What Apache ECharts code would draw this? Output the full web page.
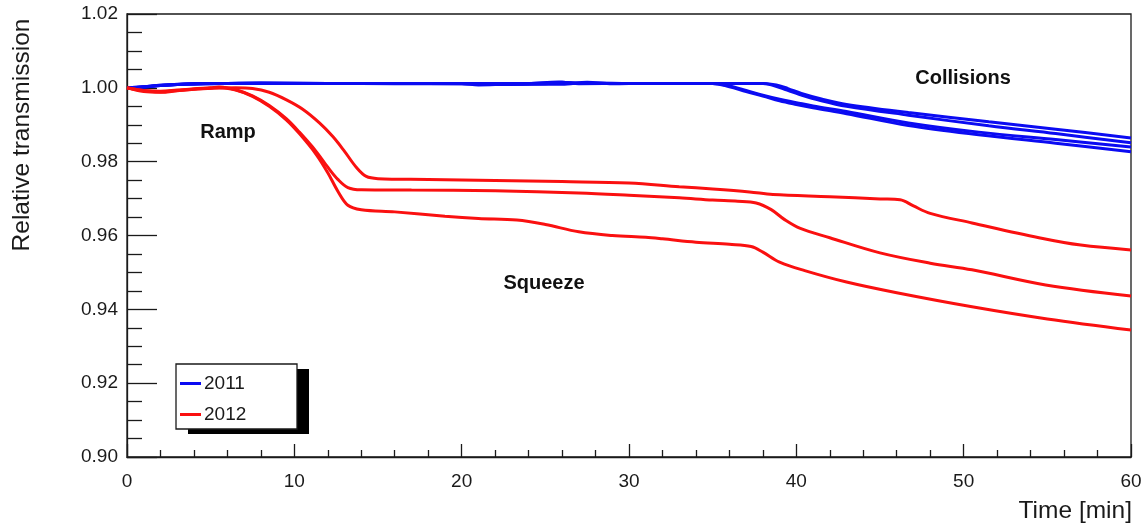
<!DOCTYPE html>
<html>
<head>
<meta charset="utf-8">
<title>Relative transmission</title>
<script src="https://cdn.jsdelivr.net/npm/echarts@6/dist/echarts.min.js"></script>
<style>
  html, body { margin: 0; padding: 0; background: #fff; }
  #chart { width: 1147px; height: 529px; }
</style>
</head>
<body>
<div id="chart"></div>
<script>
// Axis ranges and tick labels
const xTicks = [0, 10, 20, 30, 40, 50, 60];
const yTicks = [0.90, 0.92, 0.94, 0.96, 0.98, 1.00, 1.02];

// 2011 fills: [time (min), relative transmission]
const fill2011a = [[0,1.0],[1,1.0003],[2,1.0007],[3,1.0009],[4,1.0011],[6,1.0012],[8,1.0013],[12,1.0012],[16,1.0012],[20,1.0012],[22,1.0010],[24,1.0011],[25.8,1.0016],[27,1.0012],[28,1.0013],[30,1.0012],[33,1.0012],[36,1.0012],[38,1.0012],[38.8,1.0008],[39.5,0.9998],[40.3,0.9985],[41.5,0.9970],[43,0.9955],[46.7,0.9933],[51.5,0.9908],[55.5,0.9888],[60,0.9864]];
const fill2011b = [[0,1.0],[1,1.0002],[2,1.0006],[3,1.0009],[4,1.0010],[6,1.0012],[8,1.0012],[12,1.0012],[16,1.0011],[20,1.0011],[21,1.0008],[23,1.0010],[26,1.0010],[27.5,1.0015],[29,1.0011],[31,1.0012],[34,1.0012],[38,1.0012],[38.5,1.0008],[39.3,0.9996],[40.2,0.9982],[41.5,0.9965],[43,0.9950],[46.7,0.9926],[51.5,0.9897],[55.5,0.9876],[60,0.9851]];
const fill2011c = [[0,1.0],[1,1.0003],[2,1.0007],[3,1.0010],[4,1.0011],[6,1.0012],[8,1.0013],[12,1.0012],[16,1.0012],[20,1.0012],[24,1.0012],[26.5,1.0014],[28,1.0012],[31,1.0012],[35,1.0012],[36,1.0005],[37,0.9993],[38,0.9980],[39,0.9969],[40,0.9960],[41,0.9951],[43,0.9936],[46.7,0.9905],[50.9,0.9880],[55.5,0.9860],[60,0.9840]];
const fill2011d = [[0,1.0],[1,1.0002],[2,1.0006],[3,1.0009],[4,1.0011],[6,1.0012],[8,1.0012],[12,1.0012],[16,1.0012],[20,1.0011],[22,1.0009],[25,1.0011],[26,1.0015],[27,1.0011],[30,1.0012],[35,1.0012],[36,1.0003],[37,0.9990],[38,0.9978],[39,0.9965],[40,0.9955],[41,0.9946],[43,0.9930],[46.7,0.9898],[50.9,0.9873],[55.5,0.9850],[60,0.9827]];

// 2012 fills
const fill2012a = [[0,1.0],[1,0.9993],[2,0.9991],[3,0.9994],[4,0.9997],[5,0.9999],[6.5,1.0],[7.5,0.9998],[8.5,0.9988],[9.5,0.9968],[10.5,0.9942],[11.5,0.9905],[12.3,0.9868],[13,0.9828],[13.7,0.9785],[14.3,0.9760],[15,0.9754],[18,0.9752],[22,0.9749],[26,0.9746],[30,0.9742],[33,0.9732],[35,0.9726],[37.2,0.9718],[38.6,0.9711],[42,0.9705],[45,0.9699],[46.2,0.9697],[47,0.9680],[48,0.9660],[50.5,0.9634],[54.5,0.9594],[57,0.9574],[60,0.9561]];
const fill2012b = [[0,1.0],[1,0.9992],[2,0.9989],[3,0.9993],[4,0.9997],[5,1.0],[5.5,1.0002],[6.5,0.9995],[7.5,0.9978],[8.5,0.9952],[9.5,0.9917],[10.3,0.9880],[11.3,0.9828],[12,0.9785],[12.6,0.9752],[13.2,0.9730],[14,0.9724],[17,0.9723],[22,0.9721],[27,0.9715],[30,0.9709],[33,0.9702],[35,0.9696],[36.5,0.9693],[37.6,0.9688],[38.5,0.9670],[39.3,0.9643],[40.2,0.9620],[42,0.9594],[45,0.9553],[48,0.9525],[50.5,0.9507],[54.9,0.9466],[60,0.9436]];
const fill2012c = [[0,1.0],[1,0.9990],[2,0.9988],[3,0.9992],[4,0.9996],[5,0.9999],[5.5,1.0001],[6.5,0.9994],[7.5,0.9977],[8.5,0.9950],[9.5,0.9914],[10.3,0.9876],[11.3,0.9820],[12,0.9770],[12.6,0.9720],[13.2,0.9682],[14,0.9670],[16,0.9664],[19,0.9652],[21,0.9646],[23.3,0.9642],[25,0.9630],[27,0.9610],[29,0.9600],[31,0.9595],[32,0.9591],[34,0.9582],[36,0.9576],[37.3,0.9570],[38,0.9555],[39,0.9528],[40.5,0.9505],[43,0.9474],[46,0.9445],[50.5,0.9407],[55,0.9374],[60,0.9344]];

const fills2011 = [fill2011a, fill2011b, fill2011c, fill2011d];
const fills2012 = [fill2012a, fill2012b, fill2012c];

const BLUE = '#0b0bf2';
const RED = '#fa1010';
const FONT = '"Liberation Sans", Arial, Helvetica, sans-serif';
const INK = '#1a1a1a';

function lineSeries(name, data, color) {
  return {
    name: name,
    type: 'line',
    data: data,
    smooth: 0.35,
    symbol: 'none',
    lineStyle: { color: color, width: 3 },
    itemStyle: { color: color },
    emphasis: { disabled: true },
    z: 3
  };
}

const series = []
  .concat(fills2011.map(d => lineSeries('2011', d, BLUE)))
  .concat(fills2012.map(d => lineSeries('2012', d, RED)));

const chart = echarts.init(document.getElementById('chart'), null, { renderer: 'canvas' });

chart.setOption({
  animation: false,
  backgroundColor: '#ffffff',
  grid: {
    left: 127, right: 16, top: 14, bottom: 72,
    show: true, borderColor: INK, borderWidth: 1.3, backgroundColor: 'transparent'
  },
  xAxis: {
    type: 'value',
    min: xTicks[0], max: xTicks[xTicks.length - 1], interval: 10,
    axisLine: { show: true, onZero: false, lineStyle: { color: INK, width: 1.3 } },
    axisTick: { show: true, inside: true, length: 13, lineStyle: { color: INK, width: 1.3 } },
    minorTick: { show: true, splitNumber: 5, length: 7, lineStyle: { color: INK, width: 1.3 } },
    splitLine: { show: false },
    axisLabel: { margin: 15, fontSize: 19, color: INK, fontFamily: FONT }
  },
  yAxis: {
    type: 'value',
    min: yTicks[0], max: yTicks[yTicks.length - 1], interval: 0.02,
    axisLine: { show: true, onZero: false, lineStyle: { color: INK, width: 1.3 } },
    axisTick: { show: true, inside: true, length: 30, lineStyle: { color: INK, width: 1.3 } },
    minorTick: { show: true, splitNumber: 4, length: 15, lineStyle: { color: INK, width: 1.3 } },
    splitLine: { show: false },
    axisLabel: {
      margin: 9, fontSize: 19, color: INK, fontFamily: FONT,
      formatter: v => v.toFixed(2)
    }
  },
  legend: {
    data: ['2011', '2012'],
    orient: 'vertical',
    left: 180, top: 374,
    padding: 0,
    itemGap: 12,
    itemWidth: 21, itemHeight: 3,
    icon: 'rect',
    selectedMode: false,
    textStyle: { fontSize: 19, color: INK, fontFamily: FONT, padding: [0, 0, 0, -2] },
    z: 20
  },
  graphic: [
    // legend frame with its drop shadow
    { type: 'rect', z: 10, shape: { x: 188, y: 369, width: 121, height: 65 }, style: { fill: '#000' } },
    { type: 'rect', z: 11, shape: { x: 176, y: 364, width: 121, height: 65 }, style: { fill: '#fff', stroke: INK, lineWidth: 1.3 } },
    // phase annotations
    { type: 'text', z: 12, x: 228, y: 132, style: { text: 'Ramp', fill: '#111', font: 'bold 20px ' + FONT, align: 'center', verticalAlign: 'middle' } },
    { type: 'text', z: 12, x: 544, y: 283, style: { text: 'Squeeze', fill: '#111', font: 'bold 20px ' + FONT, align: 'center', verticalAlign: 'middle' } },
    { type: 'text', z: 12, x: 963, y: 78, style: { text: 'Collisions', fill: '#111', font: 'bold 20px ' + FONT, align: 'center', verticalAlign: 'middle' } },
    // axis titles
    { type: 'text', z: 12, x: 22, y: 135, rotation: Math.PI / 2, style: { text: 'Relative transmission', fill: INK, font: '24.5px ' + FONT, align: 'center', verticalAlign: 'middle' } },
    { type: 'text', z: 12, x: 1132, y: 511, style: { text: 'Time [min]', fill: INK, font: '24.5px ' + FONT, align: 'right', verticalAlign: 'middle' } }
  ],
  series: series
});
</script>
</body>
</html>
